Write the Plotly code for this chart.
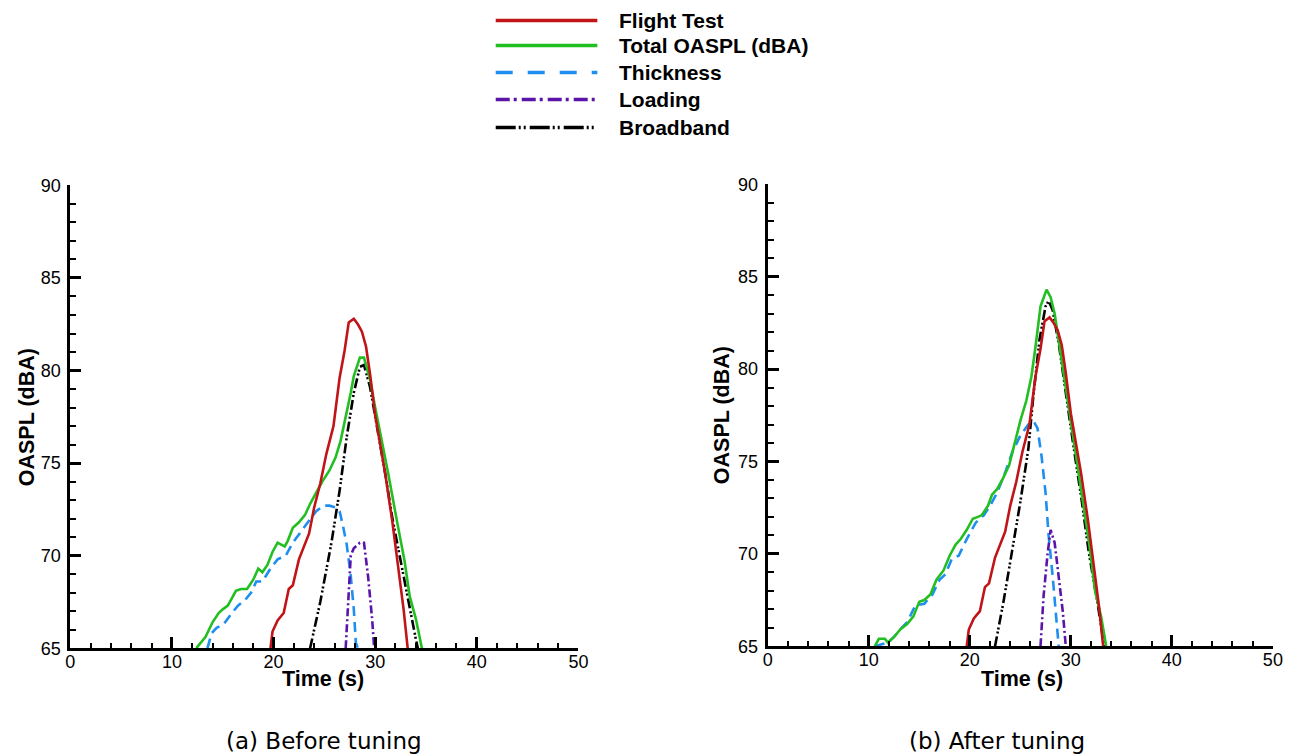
import plotly.graph_objects as go

# ---------------- data ----------------
# Flight test (same measured data in both panels)
ft_t = [19.7, 19.9, 20.4, 21.0, 21.5, 21.9, 22.5, 23.1, 23.5, 24.0, 24.6, 25.2, 25.9, 26.2, 26.5,
        27.0, 27.4, 27.9, 28.3, 28.7, 29.1, 29.5, 30.0, 30.5, 31.0, 31.7, 32.4, 32.8, 33.2]
ft_y = [65.0, 65.9, 66.5, 66.9, 68.2, 68.4, 69.8, 70.7, 71.2, 72.6, 73.9, 75.5, 77.0, 78.3, 79.6,
        81.1, 82.6, 82.8, 82.5, 82.1, 81.3, 79.8, 77.6, 76.0, 74.4, 71.8, 68.8, 67.1, 65.0]

# (a) Before tuning
a_tot_t = [12.4, 13.3, 14.0, 14.6, 15.0, 15.5, 15.8, 16.3, 16.8, 17.4, 18.0, 18.5, 18.9, 19.4, 19.9,
           20.4, 21.1, 21.4, 21.9, 22.5, 23.1, 23.6, 24.2, 24.8, 25.5, 26.1, 26.6, 27.2, 27.6, 27.9,
           28.5, 28.9, 29.5, 30.0, 30.6, 31.3, 32.1, 32.9, 33.4, 34.0, 34.6]
a_tot_y = [65.0, 65.6, 66.4, 66.9, 67.1, 67.3, 67.6, 68.1, 68.2, 68.2, 68.7, 69.3, 69.1, 69.5, 70.2,
           70.7, 70.5, 70.8, 71.5, 71.8, 72.2, 72.8, 73.4, 74.0, 74.6, 75.3, 76.2, 77.7, 78.8, 79.7,
           80.7, 80.7, 79.5, 78.0, 76.4, 74.4, 72.0, 69.7, 67.8, 66.6, 65.0]
a_thk_t = [13.5, 13.9, 14.4, 15.1, 15.9, 16.5, 17.2, 17.8, 18.3, 18.9, 19.7, 20.4, 21.2, 21.9, 22.7,
           23.4, 24.2, 24.9, 25.5, 26.1, 26.5, 26.8, 27.2, 27.6, 27.9, 28.1, 28.3]
a_thk_y = [65.0, 65.8, 66.1, 66.3, 66.9, 67.3, 67.6, 68.0, 68.6, 68.6, 69.3, 69.8, 70.0, 70.7, 71.3,
           71.8, 72.4, 72.7, 72.7, 72.6, 72.4, 71.7, 70.6, 68.9, 67.1, 65.3, 65.0]
a_ld_t = [27.1, 27.3, 27.6, 27.9, 28.5, 28.9, 29.3, 29.7, 29.9]
a_ld_y = [65.0, 67.1, 70.0, 70.4, 70.7, 70.7, 68.9, 66.6, 65.0]
a_bb_t = [23.6, 24.6, 25.7, 26.5, 27.2, 27.9, 28.5, 28.9, 29.5, 30.2, 31.0, 31.7, 32.5, 33.2, 34.0, 34.2]
a_bb_y = [65.0, 67.5, 70.7, 73.5, 76.4, 78.8, 80.2, 80.3, 79.1, 77.0, 74.4, 72.0, 69.7, 67.6, 65.5, 65.0]

# (b) After tuning
b_tot_t = [10.6, 11.0, 11.6, 11.9, 12.5, 13.1, 13.8, 14.4, 15.0, 15.5, 16.1, 16.7, 17.4, 18.0, 18.6,
           19.1, 19.7, 20.3, 20.8, 21.2, 21.8, 22.2, 22.7, 23.3, 23.9, 24.4, 25.0, 25.6, 26.1, 26.5,
           27.0, 27.6, 28.0, 28.4, 29.0, 29.5, 30.3, 31.1, 31.8, 32.4, 33.0, 33.5]
b_tot_y = [65.0, 65.4, 65.4, 65.2, 65.5, 65.9, 66.2, 66.6, 67.4, 67.5, 67.8, 68.6, 69.1, 69.9, 70.5,
           70.8, 71.3, 71.9, 72.0, 72.1, 72.6, 73.2, 73.5, 74.1, 74.8, 75.9, 77.2, 78.3, 79.6, 81.2,
           83.4, 84.3, 83.9, 83.0, 80.8, 79.0, 76.3, 73.3, 70.6, 68.0, 66.6, 65.0]
b_thk_t = [10.6, 11.4, 11.9, 12.5, 13.1, 13.8, 14.6, 15.5, 16.3, 17.0, 17.6, 18.2, 18.9, 19.7, 20.6,
           21.4, 22.0, 22.7, 23.5, 24.2, 25.0, 25.8, 26.3, 26.7, 27.1, 27.5, 27.8, 28.2, 28.6, 28.8]
b_thk_y = [65.0, 65.1, 65.2, 65.5, 65.9, 66.3, 67.2, 67.3, 67.8, 68.6, 68.9, 69.7, 69.9, 70.8, 71.7,
           72.1, 72.6, 73.3, 74.4, 75.5, 76.4, 77.0, 77.2, 76.8, 75.3, 73.3, 71.0, 68.8, 66.4, 65.0]
b_ld_t = [27.0, 27.3, 27.7, 28.0, 28.4, 28.8, 29.2, 29.5]
b_ld_y = [65.0, 67.7, 70.0, 71.3, 70.6, 68.8, 66.9, 65.0]
b_bb_t = [22.5, 23.3, 24.2, 25.0, 25.8, 26.3, 26.9, 27.5, 27.8, 28.2, 28.8, 29.5, 30.3, 31.1, 31.8, 32.6, 33.3]
b_bb_y = [65.0, 67.3, 70.2, 72.8, 75.7, 78.6, 81.6, 83.4, 83.7, 83.2, 81.4, 78.6, 75.7, 72.8, 70.0, 67.5, 65.0]

series_names = ["Flight Test", "Total OASPL (dBA)", "Thickness", "Loading", "Broadband"]
x_ticks = [0, 10, 20, 30, 40, 50]
y_ticks = [65, 70, 75, 80, 85, 90]
captions = ["(a) Before tuning", "(b) After tuning"]

# ---------------- styles ----------------
W, H = 1294, 756
colors = ["#C01418", "#22BE22", "#1E8FF0", "#5A14AA", "#000000"]
dashes = ["solid", "solid", "10px,6px", "8px,3px,2px,3px", "10px,3px,2px,2px,2px,3px"]
leg_dashes = ["solid", "solid", "17px,15px", "14px,4px,3px,5px", "20px,3px,2px,3px,2px,4px"]
LW = 2.6
FONT = "Liberation Sans, Arial, sans-serif"

# the photographed page shows the figure slightly inset/compressed; map target pixels
SX, OX = 0.992, 2.5
SY, OY = 0.974, 9.5

def px_x(p):
    return ((p - OX) / SX) / W

def px_y(p):
    return 1 - ((p - OY) / SY) / H

fig = go.Figure()

panels = [
    ("x", "y", [(ft_t, ft_y), (a_tot_t, a_tot_y), (a_thk_t, a_thk_y), (a_ld_t, a_ld_y), (a_bb_t, a_bb_y)]),
    ("x2", "y2", [(ft_t, ft_y), (b_tot_t, b_tot_y), (b_thk_t, b_thk_y), (b_ld_t, b_ld_y), (b_bb_t, b_bb_y)]),
]
order = [2, 3, 4, 1, 0]
for xa, ya, data in panels:
    for i in order:
        t, y = data[i]
        fig.add_trace(go.Scatter(
            x=t, y=y, mode="lines", name=series_names[i], showlegend=False,
            xaxis=xa, yaxis=ya,
            line=dict(color=colors[i], width=LW, dash=dashes[i]),
        ))

axis_common = dict(
    showline=True, linecolor="black", linewidth=3, mirror=False,
    showgrid=False, zeroline=False,
    ticks="inside", ticklen=11, tickwidth=2.5, tickcolor="black",
    tickfont=dict(family=FONT, size=18, color="black"),
)

xdoms = [(68, 578), (768, 1275)]
ydoms = [(648, 185), (646, 184)]

layout = dict(
    width=W, height=H,
    margin=dict(l=0, r=0, t=0, b=0),
    paper_bgcolor="white", plot_bgcolor="white",
    showlegend=False,
)
for k, (xd, yd) in enumerate(zip(xdoms, ydoms)):
    sx = "xaxis" if k == 0 else "xaxis2"
    sy = "yaxis" if k == 0 else "yaxis2"
    layout[sx] = dict(
        axis_common, domain=[px_x(xd[0]), px_x(xd[1])], range=[0, 50],
        tickvals=x_ticks, anchor="y" if k == 0 else "y2", ticklabelstandoff=-5,
        minor=dict(dtick=2, tick0=0, ticks="inside", ticklen=5, tickwidth=1.5, tickcolor="black"),
    )
    layout[sy] = dict(
        axis_common, domain=[px_y(yd[0]), px_y(yd[1])], range=[65, 90],
        tickvals=y_ticks, anchor="x" if k == 0 else "x2", ticklabelstandoff=3,
        minor=dict(dtick=1, tick0=65, ticks="inside", ticklen=6, tickwidth=1.5, tickcolor="black"),
    )
fig.update_layout(**layout)

annotations = []
shapes = []
time_x = [322, 1023]
ylab_x = [24, 722]
for k, (xd, yd) in enumerate(zip(xdoms, ydoms)):
    cy = (yd[0] + yd[1]) / 2
    annotations.append(dict(
        text="<b>Time (s)</b>", x=px_x(time_x[k]), y=px_y(679), xref="paper", yref="paper",
        showarrow=False, xanchor="center", yanchor="middle",
        font=dict(family=FONT, size=21.5, color="black"),
    ))
    annotations.append(dict(
        text="<b>OASPL (dBA)</b>", x=px_x(ylab_x[k]), y=px_y(cy), xref="paper", yref="paper",
        showarrow=False, xanchor="center", yanchor="middle", textangle=-90,
        font=dict(family=FONT, size=21.5, color="black"),
    ))

cap_x = [323, 998]
for c, cxp in zip(captions, cap_x):
    annotations.append(dict(
        text=c, x=px_x(cxp), y=px_y(741), xref="paper", yref="paper",
        showarrow=False, xanchor="center", yanchor="middle",
        font=dict(family="DejaVu Sans, Verdana, sans-serif", size=23, color="black"),
    ))

leg_rows = [20, 45, 72, 99, 127]
for i, (name, ry) in enumerate(zip(series_names, leg_rows)):
    shapes.append(dict(
        type="line", xref="paper", yref="paper",
        x0=px_x(495), x1=px_x(597), y0=px_y(ry), y1=px_y(ry),
        line=dict(color=colors[i], width=3.5, dash=leg_dashes[i]),
    ))
    annotations.append(dict(
        text="<b>" + name + "</b>", x=px_x(617), y=px_y(ry), xref="paper", yref="paper",
        showarrow=False, xanchor="left", yanchor="middle",
        font=dict(family=FONT, size=21, color="black"),
    ))

fig.update_layout(annotations=annotations, shapes=shapes)
fig.write_html(
    "out.html",
    config={"displayModeBar": False},
    post_script="document.body.style.margin='0';document.body.style.padding='0';"
                "document.body.style.overflow='hidden';document.documentElement.style.overflow='hidden';",
)
